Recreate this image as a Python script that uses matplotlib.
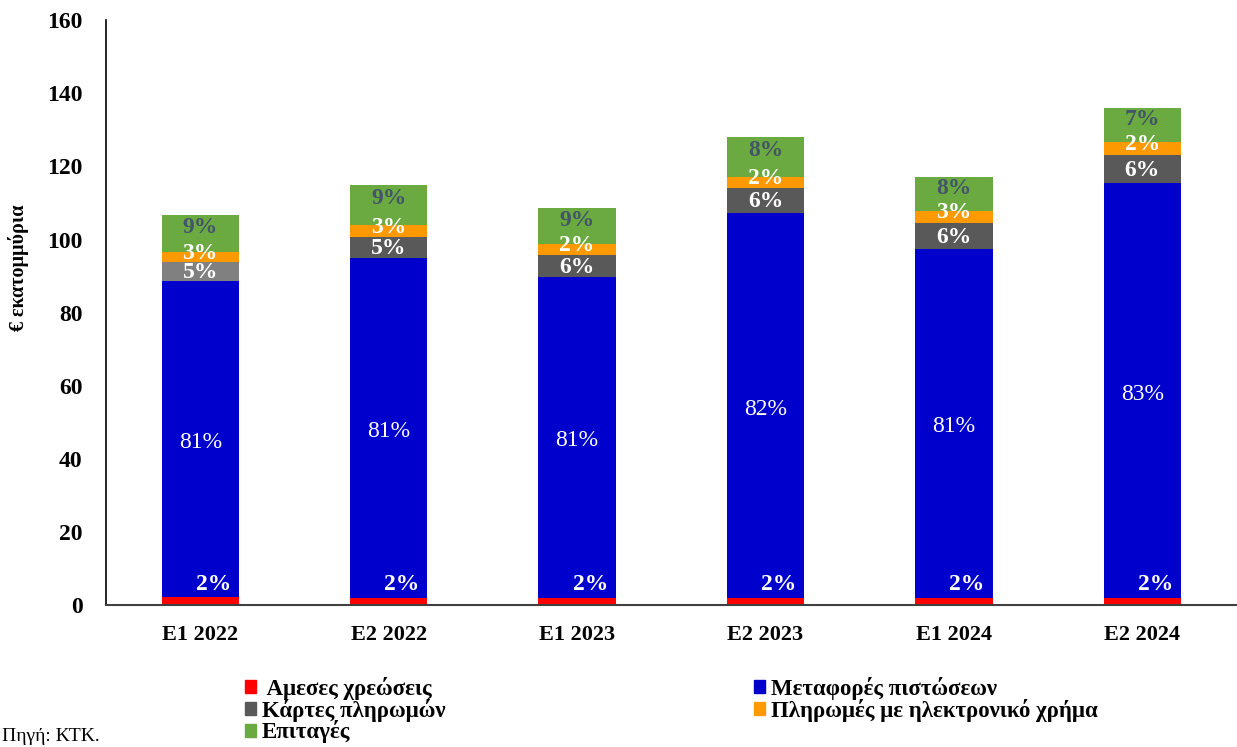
import matplotlib.pyplot as plt
import numpy as np

periods = ["Ε1 2022", "Ε2 2022", "Ε1 2023", "Ε2 2023", "Ε1 2024", "Ε2 2024"]

# € εκατομμύρια
direct_debits = [2.1, 2.0, 2.0, 2.0, 2.0, 2.0]
credit_transfers = [86.5, 92.9, 87.7, 105.2, 95.4, 113.4]
cards = [5.3, 5.8, 6.0, 6.9, 7.1, 7.7]
emoney = [2.7, 3.2, 3.0, 3.0, 3.3, 3.5]
cheques = [10.1, 11.0, 9.9, 10.9, 9.3, 9.3]

pct_dd = ["2%"] * 6
pct_ct = ["81%", "81%", "81%", "82%", "81%", "83%"]
pct_cards = ["5%", "5%", "6%", "6%", "6%", "6%"]
pct_em = ["3%", "3%", "2%", "2%", "3%", "2%"]
pct_ch = ["9%", "9%", "9%", "8%", "8%", "7%"]

plt.rcParams['font.family'] = ['Liberation Serif', 'DejaVu Serif']

fig = plt.figure(figsize=(12.37, 7.47), dpi=100)
ax = fig.add_axes([0.0857, 0.19, 0.914, 0.783])

x = np.arange(len(periods))
w = 0.41
red, blue, orange, green = "#FF0000", "#0000CC", "#FF9900", "#6AAA40"
grey_bars = ["#808080"] + ["#595959"] * 5

b1 = ax.bar(x, direct_debits, w, color=red)
bot = np.array(direct_debits)
b2 = ax.bar(x, credit_transfers, w, bottom=bot, color=blue)
bot = bot + np.array(credit_transfers)
b3 = ax.bar(x, cards, w, bottom=bot, color=grey_bars)
bot_c = bot
bot = bot + np.array(cards)
b4 = ax.bar(x, emoney, w, bottom=bot, color=orange)
bot_e = bot
bot = bot + np.array(emoney)
b5 = ax.bar(x, cheques, w, bottom=bot, color=green)
bot_g = bot

bold = dict(fontsize=17, fontweight='bold', ha='center', va='center')
for i in range(len(periods)):
    ax.text(x[i] + 0.07, direct_debits[i] + 3.5, pct_dd[i], color='white', **bold)
    ax.text(x[i], direct_debits[i] + credit_transfers[i] * 0.49, pct_ct[i],
            color='white', fontsize=17, ha='center', va='center')
    ax.text(x[i], bot_c[i] + cards[i] * 0.45, pct_cards[i], color='white', **bold)
    ax.text(x[i], bot_e[i] + emoney[i] * 0.85, pct_em[i], color='white', **bold)
    ax.text(x[i], bot_g[i] + cheques[i] * 0.66, pct_ch[i], color='#44546A', **bold)

ax.set_xlim(-0.5, 5.5)
ax.set_ylim(0, 160)
ax.set_yticks(range(0, 161, 20))
ax.set_xticks(x)
ax.set_xticklabels(periods)
ax.tick_params(axis='x', length=0, labelsize=16, pad=14)
ax.tick_params(axis='y', length=0, labelsize=17, pad=17)
for lab in ax.get_xticklabels() + ax.get_yticklabels():
    lab.set_fontweight('bold')
ax.set_ylabel("€ εκατομμύρια", fontsize=14.5, fontweight='bold')
ax.yaxis.set_label_coords(-0.068, 0.576)
ax.spines['top'].set_visible(False)
ax.spines['right'].set_visible(False)
ax.spines['bottom'].set_color('#404040')
ax.spines['bottom'].set_linewidth(1.5)
ax.spines['left'].set_linewidth(1.2)

handles = [b1, b3, b5, b2, b4]
labels = [" Αμεσες χρεώσεις", "Κάρτες πληρωμών", "Επιταγές",
          "Μεταφορές πιστώσεων", "Πληρωμές με ηλεκτρονικό χρήμα"]
leg = fig.legend(handles, labels, ncol=2, loc='upper left', bbox_to_anchor=(0.198, 0.094),
                 frameon=False, prop=dict(size=16.5, weight='bold'), handlelength=0.5,
                 handleheight=0.5, handletextpad=0.25, labelspacing=-0.05, columnspacing=13.45,
                 borderaxespad=0, borderpad=0)
for h in leg.legend_handles:
    h.set_color(h.get_facecolor())
leg.legend_handles[1].set_color("#595959")

fig.text(0.002, 0.003, "Πηγή: ΚΤΚ.", fontsize=14, ha='left', va='bottom')

fig.savefig("out.png", dpi=100)
